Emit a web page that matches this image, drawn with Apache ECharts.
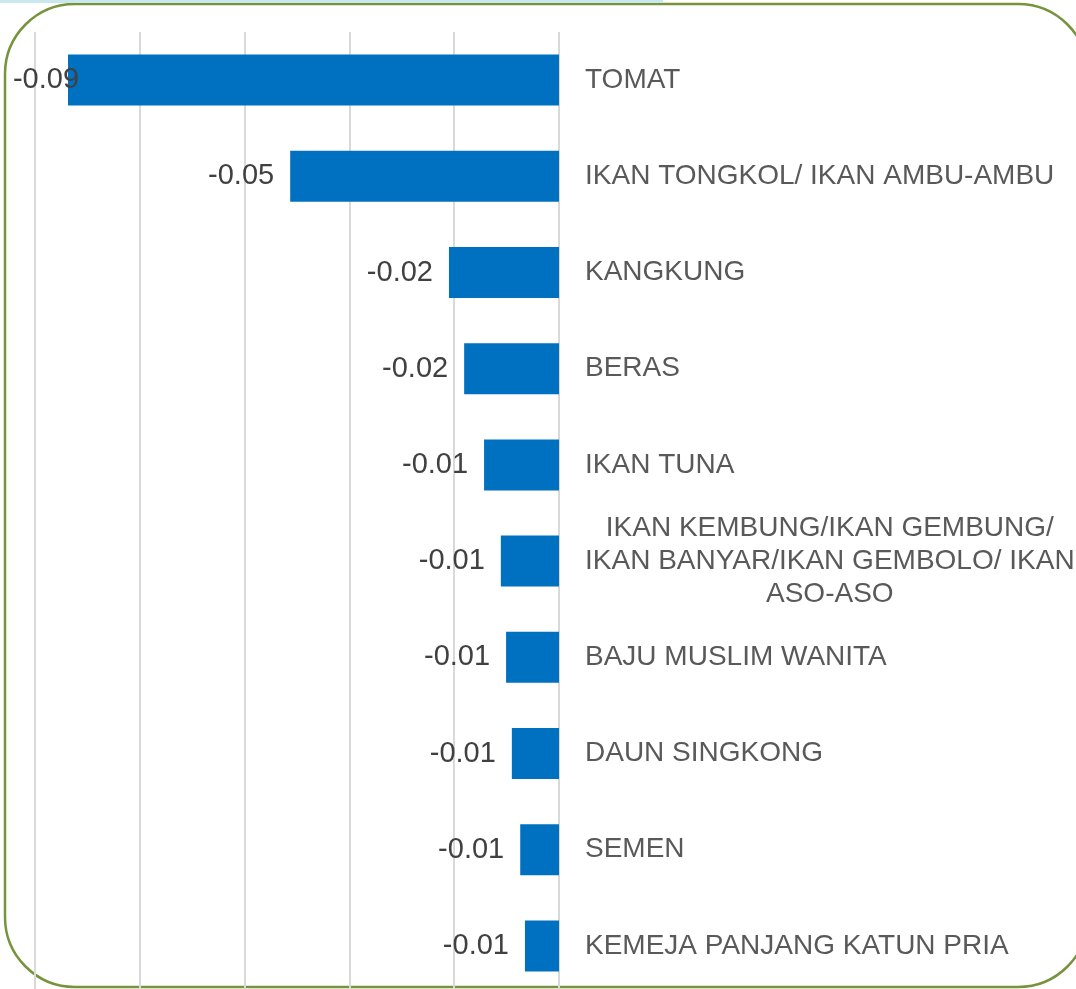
<!DOCTYPE html>
<html>
<head>
<meta charset="utf-8">
<script src="https://cdn.jsdelivr.net/npm/echarts@6/dist/echarts.min.js"></script>
<style>
  html, body { margin: 0; padding: 0; background: #fff; }
  #chart { width: 1076px; height: 989px; }
</style>
</head>
<body>
<div id="chart"></div>
<script>
// data
var komoditas = [
    'TOMAT',
    'IKAN TONGKOL/ IKAN AMBU-AMBU',
    'KANGKUNG',
    'BERAS',
    'IKAN TUNA',
    'IKAN KEMBUNG/IKAN GEMBUNG/\nIKAN BANYAR/IKAN GEMBOLO/ IKAN\nASO-ASO',
    'BAJU MUSLIM WANITA',
    'DAUN SINGKONG',
    'SEMEN',
    'KEMEJA PANJANG KATUN PRIA'
];
var andil = [-0.0937, -0.0513, -0.0210, -0.0181, -0.0143, -0.0111, -0.0101, -0.0090, -0.0074, -0.0065];
var xTicks = [-0.1, -0.08, -0.06, -0.04, -0.02, 0];

var chart = echarts.init(document.getElementById('chart'));

var barData = andil.map(function (v, i) {
    var item = { value: v };
    // label yang tidak muat -> menumpuk di ujung batang
    if (i === 0) {
        item.label = { distance: -11 };
    }
    return item;
});

var option = {
    backgroundColor: '#fff',
    animation: false,
    textStyle: { fontFamily: '"Liberation Sans", Arial, sans-serif' },
    grid: { left: 35, right: 517, top: 32, height: 962, outerBoundsMode: 'none' },
    xAxis: {
        type: 'value',
        min: xTicks[0],
        max: xTicks[xTicks.length - 1],
        interval: 0.02,
        axisLabel: { show: false },
        axisLine: { show: false },
        axisTick: { show: false },
        splitLine: { lineStyle: { color: '#d9d9d9', width: 2 } }
    },
    yAxis: {
        type: 'category',
        data: komoditas,
        inverse: true,
        position: 'right',
        axisLine: { show: false },
        axisTick: { show: false },
        axisLabel: {
            interval: 0,
            margin: 26,
            color: '#595959',
            fontSize: 28,
            lineHeight: 33,
            formatter: function (v) {
                if (v.indexOf('\n') < 0) return v;
                return v.split('\n').map(function (l) { return '{c|' + l + '}'; }).join('\n');
            },
            rich: {
                c: { align: 'center', color: '#595959', fontSize: 28, lineHeight: 33 }
            }
        }
    },
    series: [{
        type: 'bar',
        data: barData,
        barWidth: 51,
        itemStyle: { color: '#0070C0' },
        label: {
            show: true,
            position: 'left',
            distance: 16,
            color: '#404040',
            fontSize: 29,
            formatter: function (p) { return p.value.toFixed(2); }
        }
    }],
    graphic: [
        {
            type: 'rect',
            shape: { x: 5, y: 4, width: 1083, height: 983, r: 70 },
            style: { fill: null, stroke: '#77933C', lineWidth: 2.5 },
            silent: true
        },
        {
            type: 'rect',
            shape: { x: 0, y: 0, width: 663, height: 3 },
            style: { fill: '#c9e8ee' },
            silent: true
        },
        {
            type: 'text',
            x: 448,
            y: -5,
            style: {
                text: '(%)',
                font: 'bold 40px "Liberation Sans", Arial, sans-serif',
                fill: '#000',
                textVerticalAlign: 'bottom'
            },
            silent: true
        }
    ]
};

chart.setOption(option);
</script>
</body>
</html>
